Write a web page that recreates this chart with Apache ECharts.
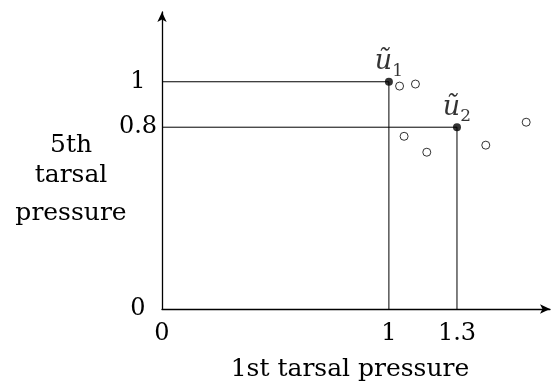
<!DOCTYPE html>
<html>
<head>
<meta charset="utf-8">
<script src="https://cdn.jsdelivr.net/npm/echarts@6/dist/echarts.min.js"></script>
<style>html,body{margin:0;padding:0;background:#fff}#c{width:556px;height:387px}</style>
</head>
<body>
<div id="c"></div>
<script>
const xTicks = [0, 1, 1.3];
const yTicks = [0, 0.8, 1];
const keyPoints = [[1, 1], [1.3, 0.8]];
const keyLabels = ['1', '2'];
const otherPoints = [[1.047, 0.981], [1.117, 0.990], [1.067, 0.760], [1.167, 0.690], [1.427, 0.721], [1.605, 0.822]];
const xName = '1st tarsal pressure';
const yNameLines = ['5th', 'tarsal', 'pressure'];

const FONT = 'DejaVu Serif';
const chart = echarts.init(document.getElementById('c'), null, {renderer: 'canvas'});

const guideSeries = keyPoints.map(p => ({
  type: 'line',
  data: [[0, p[1]], [p[0], p[1]], [p[0], 0]],
  symbol: 'none',
  lineStyle: {color: '#000', width: 1},
  silent: true,
  z: 1
}));

chart.setOption({
  animation: false,
  grid: {left: 162, right: 6, top: 12, bottom: 78},
  xAxis: {
    type: 'value', min: 0, max: 1.71,
    axisLine: {show: true, lineStyle: {color: '#000', width: 1.3}, symbol: ['none', 'arrow'], symbolSize: [7, 10]},
    axisTick: {show: false},
    splitLine: {show: false},
    axisLabel: {customValues: xTicks, margin: 13, color: '#000', fontFamily: FONT, fontSize: 24, formatter: v => String(v)}
  },
  yAxis: {
    type: 'value', min: 0, max: 1.307,
    axisLine: {show: true, lineStyle: {color: '#000', width: 1.3}, symbol: ['none', 'arrow'], symbolSize: [7, 10]},
    axisTick: {show: false},
    splitLine: {show: false},
    axisLabel: {customValues: yTicks, margin: 24, align: 'center', color: '#000', fontFamily: FONT, fontSize: 24, formatter: v => String(v)}
  },
  graphic: [
    {type: 'text', style: {text: xName, x: 350, y: 369, align: 'center', verticalAlign: 'middle', font: '25px "DejaVu Serif"', fill: '#000'}}
  ].concat(yNameLines.map((t, i) => ({
    type: 'text',
    style: {text: t, x: 71, y: [145, 175, 213][i], align: 'center', verticalAlign: 'middle', font: '25px "DejaVu Serif"', fill: '#000'}
  }))),
  series: guideSeries.concat([
    {
      type: 'scatter',
      data: otherPoints,
      symbol: 'circle',
      symbolSize: 8,
      itemStyle: {color: '#fff', borderColor: '#000', borderWidth: 1},
      z: 3
    },
    {
      type: 'scatter',
      data: keyPoints.map((p, i) => ({value: p, name: keyLabels[i]})),
      symbol: 'circle',
      symbolSize: 8,
      itemStyle: {color: '#000'},
      label: {
        show: true, position: 'top', distance: 2,
        formatter: p => '{u|ũ}{s|' + p.name + '}',
        rich: {
          u: {fontFamily: FONT, fontStyle: 'italic', fontSize: 27, color: '#000', verticalAlign: 'bottom'},
          s: {fontFamily: FONT, fontSize: 17, color: '#000', verticalAlign: 'bottom', padding: [0, 0, -4, 0]}
        }
      },
      z: 4
    }
  ])
});
</script>
</body>
</html>
